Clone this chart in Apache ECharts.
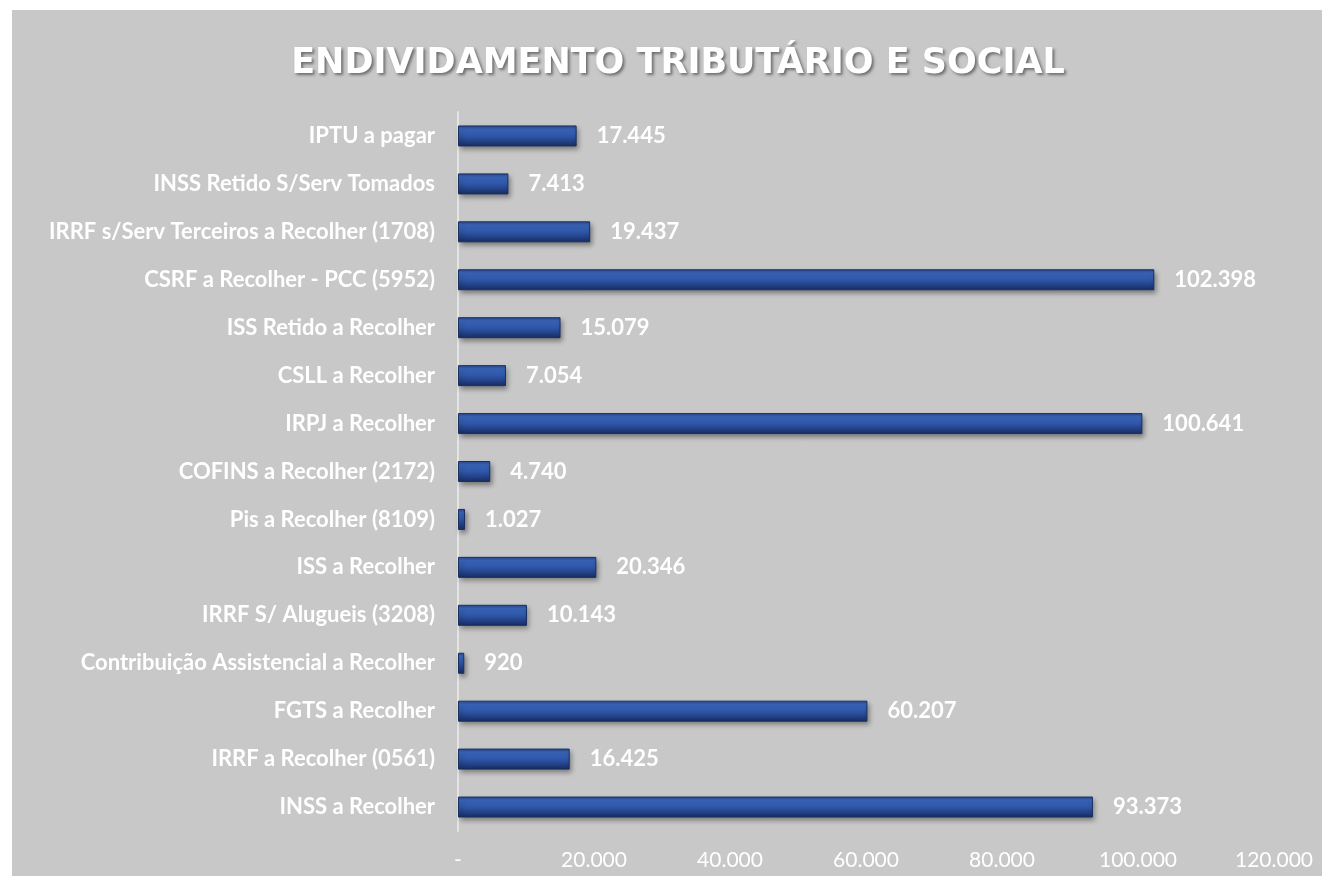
<!DOCTYPE html>
<html>
<head>
<meta charset="utf-8">
<script src="https://cdn.jsdelivr.net/npm/echarts@6/dist/echarts.min.js"></script>
<style>
  html, body { margin: 0; padding: 0; background: #ffffff; }
  #chart { position: absolute; left: 12px; top: 10px; width: 1310px; height: 866px; background: #c8c8c8; }
</style>
</head>
<body>
<div id="chart"></div>
<script>
// categorias de cima para baixo
var categorias = [
  "IPTU a pagar",
  "INSS Retido S/Serv Tomados",
  "IRRF s/Serv Terceiros a Recolher (1708)",
  "CSRF a Recolher - PCC (5952)",
  "ISS Retido a Recolher",
  "CSLL a Recolher",
  "IRPJ a Recolher",
  "COFINS a Recolher (2172)",
  "Pis a Recolher (8109)",
  "ISS a Recolher",
  "IRRF S/ Alugueis (3208)",
  "Contribuição Assistencial a Recolher",
  "FGTS a Recolher",
  "IRRF a Recolher (0561)",
  "INSS a Recolher"
];
var valores = [17445, 7413, 19437, 102398, 15079, 7054, 100641, 4740, 1027, 20346, 10143, 920, 60207, 16425, 93373];
var eixoMax = 120000;
var eixoIntervalo = 20000;

function formatar(v) {
  if (v === 0) return "-";
  return String(Math.round(v)).replace(/\B(?=(\d{3})+(?!\d))/g, ".");
}

var chart = echarts.init(document.getElementById("chart"));
var option = {
  animation: false,
  title: {
    text: "ENDIVIDAMENTO TRIBUTÁRIO E SOCIAL",
    left: 661,
    textAlign: "center",
    top: 31,
    textStyle: {
      color: "#ffffff",
      fontFamily: "DejaVu Sans",
      fontWeight: "bold",
      fontSize: 35,
      textShadowColor: "rgba(0,0,0,0.45)",
      textShadowBlur: 3,
      textShadowOffsetX: 2,
      textShadowOffsetY: 2
    }
  },
  grid: { left: 446, right: 48, top: 102, bottom: 45 },
  xAxis: {
    type: "value",
    min: 0,
    max: eixoMax,
    interval: eixoIntervalo,
    splitLine: { show: false },
    axisLine: { show: false },
    axisTick: { show: false },
    axisLabel: {
      color: "#ffffff",
      fontFamily: "Lato",
      fontSize: 21,
      margin: 19,
      formatter: formatar
    }
  },
  yAxis: {
    type: "category",
    inverse: true,
    data: categorias,
    axisLine: { show: true, lineStyle: { color: "#e4e4e4", width: 2 } },
    axisTick: { show: false },
    axisLabel: {
      color: "#ffffff",
      fontFamily: "Lato",
      fontWeight: "bold",
      fontSize: 22,
      margin: 23
    }
  },
  series: [{
    type: "bar",
    data: valores,
    barWidth: 21,
    itemStyle: {
      color: new echarts.graphic.LinearGradient(0, 0, 0, 1, [
        { offset: 0, color: "#27498f" },
        { offset: 0.18, color: "#3c67bd" },
        { offset: 0.5, color: "#2e57a9" },
        { offset: 0.78, color: "#223f84" },
        { offset: 1, color: "#182c5e" }
      ]),
      borderColor: "#1a2f5e",
      borderWidth: 1,
      shadowColor: "rgba(0,0,0,0.4)",
      shadowBlur: 5,
      shadowOffsetX: 2,
      shadowOffsetY: 3
    },
    label: {
      show: true,
      position: "right",
      distance: 20,
      color: "#ffffff",
      fontFamily: "Lato",
      fontWeight: "bold",
      fontSize: 22,
      formatter: function (p) { return formatar(p.value); }
    }
  }]
};
chart.setOption(option);
</script>
</body>
</html>
